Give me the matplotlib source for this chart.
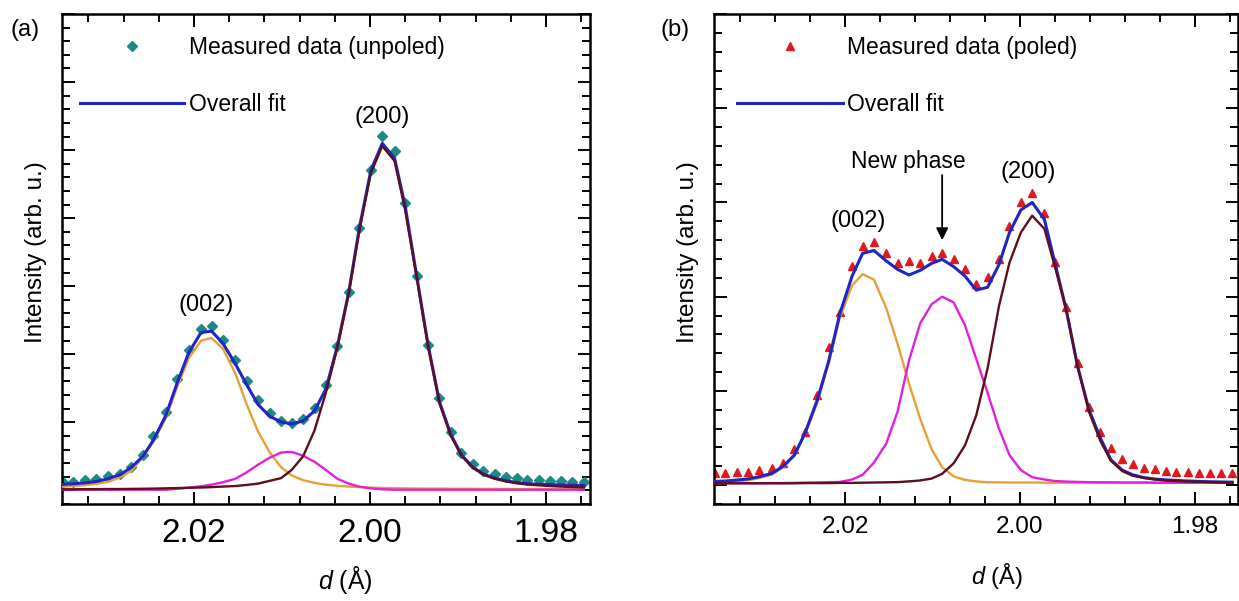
import numpy as np
import matplotlib
matplotlib.use('Agg')
import matplotlib.pyplot as plt
from matplotlib.ticker import MultipleLocator, FormatStrFormatter, NullFormatter

plt.rcParams['font.family'] = ['Liberation Sans', 'DejaVu Sans']
plt.rcParams['mathtext.fontset'] = 'custom'
plt.rcParams['mathtext.rm'] = 'Liberation Sans'
plt.rcParams['mathtext.it'] = 'Liberation Sans:italic'

# d-spacing grid (Angstrom), same for both scans
d = [2.0349, 2.0337, 2.0324, 2.0311, 2.0298, 2.0284, 2.0271, 2.0258, 2.0246, 2.0232,
     2.0219, 2.0206, 2.0192, 2.0180, 2.0167, 2.0153, 2.0140, 2.0127, 2.0114, 2.0101,
     2.0089, 2.0076, 2.0063, 2.0050, 2.0037, 2.0024, 2.0012, 1.9999, 1.9986, 1.9972,
     1.9960, 1.9947, 1.9934, 1.9921, 1.9908, 1.9896, 1.9883, 1.9871, 1.9858, 1.9845,
     1.9833, 1.9821, 1.9808, 1.9795, 1.9783, 1.9770, 1.9757]

# (a) unpoled
a_meas = [0.64, 0.64, 0.76, 0.84, 1.06, 1.21, 1.70, 2.60, 4.00, 5.79,
          8.19, 10.32, 11.87, 12.09, 11.06, 9.59, 8.07, 6.65, 5.69, 5.13,
          4.98, 5.27, 6.04, 7.75, 10.62, 14.61, 19.27, 23.56, 26.01, 24.90,
          21.11, 15.76, 10.69, 6.77, 4.32, 2.73, 1.92, 1.43, 1.21, 1.01,
          0.89, 0.76, 0.76, 0.69, 0.69, 0.64, 0.64]
a_fit = [0.45, 0.48, 0.55, 0.65, 0.85, 1.15, 1.7, 2.5, 3.7, 5.5,
         7.9, 10.1, 11.6, 11.7, 10.8, 9.3, 7.75, 6.3, 5.45, 5.03,
         4.88, 5.1, 5.84, 7.46, 10.6, 14.6, 19.3, 23.5, 25.5, 24.4,
         20.9, 15.8, 10.7, 6.5, 4.1, 2.6, 1.7, 1.2, 0.9, 0.7,
         0.58, 0.5, 0.45, 0.42, 0.4, 0.38, 0.36]
a_002 = [0.27, 0.32, 0.38, 0.48, 0.62, 0.95, 1.45, 2.45, 3.6, 5.3,
         7.6, 9.7, 11.0, 11.2, 10.4, 8.6, 6.3, 4.3, 2.8, 1.7,
         1.1, 0.75, 0.55, 0.42, 0.34, 0.28, 0.24, 0.2, 0.18, 0.16,
         0.15, 0.14, 0.13, 0.13, 0.12, 0.12, 0.12, 0.11, 0.11, 0.11,
         0.1, 0.1, 0.1, 0.1, 0.1, 0.1, 0.1]
a_new = [0.05, 0.05, 0.05, 0.05, 0.05, 0.05, 0.05, 0.05, 0.05, 0.05,
         0.12, 0.2, 0.3, 0.42, 0.6, 0.85, 1.33, 1.9, 2.4, 2.78,
         2.83, 2.55, 2.1, 1.5, 0.85, 0.5, 0.27, 0.15, 0.08, 0.05,
         0.05, 0.05, 0.05, 0.05, 0.05, 0.05, 0.05, 0.05, 0.05, 0.05,
         0.05, 0.05, 0.05, 0.05, 0.05, 0.05, 0.05]
a_200 = [0.08, 0.08, 0.09, 0.09, 0.1, 0.1, 0.11, 0.12, 0.13, 0.15,
         0.17, 0.19, 0.21, 0.24, 0.28, 0.32, 0.4, 0.5, 0.7, 0.9,
         1.5, 2.5, 4.4, 7.2, 10.5, 14.5, 19.1, 23.3, 25.3, 24.2,
         20.6, 15.7, 10.6, 6.4, 4.0, 2.55, 1.65, 1.15, 0.85, 0.65,
         0.52, 0.43, 0.37, 0.32, 0.28, 0.25, 0.22]

# (b) poled
b_meas = [0.66, 0.66, 0.71, 0.71, 0.80, 0.89, 1.19, 1.90, 2.84, 4.78,
          7.31, 9.17, 11.64, 12.70, 12.88, 12.30, 11.77, 11.91, 11.77, 12.16,
          12.33, 11.98, 11.45, 10.67, 11.06, 11.98, 13.75, 15.04, 15.48, 14.42,
          11.85, 9.47, 6.46, 4.16, 2.84, 1.95, 1.37, 1.12, 0.93, 0.84,
          0.75, 0.71, 0.71, 0.66, 0.66, 0.66, 0.66]
b_fit = [0.2, 0.22, 0.27, 0.33, 0.45, 0.62, 1.0, 1.6, 2.75, 4.5,
         6.55, 9.1, 11.1, 12.3, 12.45, 11.9, 11.45, 11.15, 11.4, 11.77,
         11.98, 11.6, 11.1, 10.35, 10.5, 11.7, 13.4, 14.6, 15.0, 14.1,
         11.8, 9.3, 6.3, 4.0, 2.5, 1.35, 0.8, 0.55, 0.4, 0.32,
         0.28, 0.25, 0.22, 0.2, 0.18, 0.17, 0.16]
b_002 = [0.15, 0.17, 0.2, 0.26, 0.38, 0.55, 0.95, 1.55, 2.7, 4.35,
         6.45, 8.9, 10.6, 11.2, 10.9, 9.4, 7.5, 5.4, 3.5, 1.9,
         0.95, 0.47, 0.28, 0.2, 0.15, 0.15, 0.14, 0.14, 0.14, 0.13,
         0.13, 0.13, 0.13, 0.13, 0.13, 0.13, 0.13, 0.13, 0.13, 0.13,
         0.13, 0.13, 0.13, 0.13, 0.13, 0.13, 0.13]
b_new = [0.1, 0.1, 0.1, 0.1, 0.1, 0.11, 0.11, 0.12, 0.13, 0.14,
         0.16, 0.17, 0.3, 0.55, 1.2, 2.2, 3.9, 6.6, 8.6, 9.6,
         10.0, 9.7, 8.5, 6.7, 4.9, 3.0, 1.6, 0.8, 0.42, 0.3,
         0.22, 0.19, 0.17, 0.16, 0.15, 0.15, 0.14, 0.14, 0.14, 0.13,
         0.13, 0.13, 0.13, 0.13, 0.13, 0.13, 0.13]
b_200 = [0.1, 0.1, 0.1, 0.1, 0.1, 0.1, 0.1, 0.1, 0.11, 0.11,
         0.11, 0.12, 0.12, 0.13, 0.14, 0.15, 0.16, 0.2, 0.25, 0.35,
         0.6, 1.15, 2.1, 3.7, 6.2, 9.5, 11.8, 13.4, 14.3, 13.6,
         11.6, 9.3, 6.3, 3.9, 2.35, 1.3, 0.75, 0.5, 0.38, 0.3,
         0.25, 0.22, 0.2, 0.18, 0.16, 0.14, 0.13]

C_TEAL = '#1e8a86'
C_RED = '#e0191c'
C_BLUE = '#1f26c4'
C_ORANGE = '#e6a035'
C_MAGENTA = '#e020dc'
C_MAROON = '#5e0f1e'


def style_axes(ax, ylim, tick_fs, pad):
    ax.set_xlim(2.035, 1.975)
    ax.set_ylim(*ylim)
    ax.xaxis.set_major_locator(MultipleLocator(0.02))
    ax.xaxis.set_minor_locator(MultipleLocator(0.004))
    ax.xaxis.set_major_formatter(FormatStrFormatter('%.2f'))
    ax.yaxis.set_major_locator(MultipleLocator(5))
    ax.yaxis.set_minor_locator(MultipleLocator(1))
    ax.yaxis.set_major_formatter(NullFormatter())
    ax.tick_params(which='both', direction='in', top=True, right=True,
                   width=1.4, labelsize=tick_fs, pad=pad)
    ax.tick_params(which='major', length=9)
    ax.tick_params(which='minor', length=5.5)
    for s in ax.spines.values():
        s.set_linewidth(1.8)


def draw_panel(ax, meas, fit, c002, cnew, c200, marker, mcolor, msize, label):
    ax.plot(d, meas, linestyle='none', marker=marker, color=mcolor,
            markersize=msize, zorder=2, label=label)
    ax.plot(d, c002, color=C_ORANGE, lw=1.7, zorder=3)
    ax.plot(d, cnew, color=C_MAGENTA, lw=1.7, zorder=3)
    ax.plot(d, fit, color=C_BLUE, lw=2.2, zorder=4, label='Overall fit')
    ax.plot(d, c200, color=C_MAROON, lw=1.7, zorder=5)


fig = plt.figure(figsize=(12.39, 6.01), dpi=100)
ax1 = fig.add_axes([0.0500, 0.1614, 0.42615, 0.8153])
ax2 = fig.add_axes([0.5763, 0.1614, 0.42324, 0.8153])

# panel (a)
draw_panel(ax1, a_meas, a_fit, a_002, a_new, a_200, 'D', C_TEAL, 4.8,
           'Measured data (unpoled)')
style_axes(ax1, (-1, 35), 24, 10)
ax1.set_ylabel('Intensity (arb. u.)', fontsize=17.5)
ax1.yaxis.set_label_coords(-0.029, 0.515)
ax1.set_xlabel('$d$ (Å)', fontsize=18)
ax1.xaxis.label.set_va('center')
ax1.xaxis.set_label_coords(0.536, -0.155)
ax1.legend(loc='upper left', bbox_to_anchor=(0.034, 0.956), frameon=False,
           fontsize=16.5, handlelength=4.55, handletextpad=0.2,
           labelspacing=1.5, borderpad=0, borderaxespad=0, numpoints=1)
ax1.text(2.0186, 13.6, '(002)', fontsize=17, ha='center', va='center')
ax1.text(1.9986, 27.4, '(200)', fontsize=17, ha='center', va='center')

# panel (b)
draw_panel(ax2, b_meas, b_fit, b_002, b_new, b_200, '^', C_RED, 6.2,
           'Measured data (poled)')
style_axes(ax2, (-1, 25), 17.5, 9)
ax2.set_ylabel('Intensity (arb. u.)', fontsize=17.5)
ax2.yaxis.set_label_coords(-0.029, 0.515)
ax2.set_xlabel('$d$ (Å)', fontsize=17)
ax2.xaxis.label.set_va('center')
ax2.xaxis.set_label_coords(0.54, -0.147)
ax2.legend(loc='upper left', bbox_to_anchor=(0.044, 0.956), frameon=False,
           fontsize=16.5, handlelength=4.6, handletextpad=0.2,
           labelspacing=1.5, borderpad=0, borderaxespad=0, numpoints=1)
ax2.text(2.0185, 14.0, '(002)', fontsize=17, ha='center', va='center')
ax2.text(1.9990, 16.6, '(200)', fontsize=17, ha='center', va='center')
pk = d[int(np.argmax(b_new))]
ax2.annotate('', xy=(pk, 13.0), xytext=(pk, 16.45),
             arrowprops=dict(arrowstyle='-|>', color='black', lw=1.3,
                             mutation_scale=18, shrinkA=0, shrinkB=0))
ax2.text(2.0128, 17.15, 'New phase', fontsize=16.5, ha='center', va='center')

fig.text(25 / 1239, 1 - 30 / 601, '(a)', fontsize=17, ha='center', va='center')
fig.text(675 / 1239, 1 - 30 / 601, '(b)', fontsize=17, ha='center', va='center')

fig.savefig('out.png', dpi=100)
